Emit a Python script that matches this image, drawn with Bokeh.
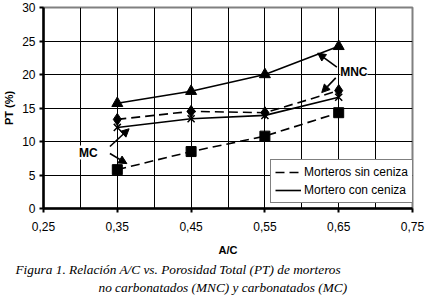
from bokeh.plotting import figure
from bokeh.models import (FixedTicker, Legend, LegendItem, Arrow, NormalHead,
                          Label, CustomJSTickFormatter, Range1d, Title)
from bokeh.embed import file_html
from bokeh.resources import INLINE

# ---- data ----
ac = [0.35, 0.45, 0.55, 0.65]
mnc_con_ceniza = [15.7, 17.5, 20.0, 24.2]   # triangles, solid
mnc_sin_ceniza = [13.3, 14.5, 14.3, 17.6]   # diamonds, dashed
mc_con_ceniza = [12.1, 13.4, 13.9, 16.6]    # x markers, solid
mc_sin_ceniza = [5.8, 8.5, 10.8, 14.3]      # squares, dashed
x_ticks = [0.25, 0.35, 0.45, 0.55, 0.65, 0.75]
x_grid = [0.25, 0.30, 0.35, 0.40, 0.45, 0.50, 0.55, 0.60, 0.65, 0.70, 0.75]
y_ticks = [0, 5, 10, 15, 20, 25, 30]
legend_labels = ["Morteros sin ceniza", "Mortero con ceniza"]
caption_1 = "Figura 1. Relación A/C vs. Porosidad Total (PT) de morteros"
caption_2 = "no carbonatados (MNC) y carbonatados (MC)"

# annotation arrows (x_start, y_start, x_end, y_end)
mnc_arrows = [(0.6475, 21.1, 0.6215, 23.2), (0.646, 19.5, 0.627, 17.3)]
mc_arrows = [(0.340, 9.25, 0.366, 11.9), (0.340, 8.2, 0.363, 6.7)]

FONT = "Liberation Sans"
CAP_FONT = "Liberation Serif"

p = figure(width=430, height=296, output_backend="svg", toolbar_location=None,
           x_range=Range1d(0.25, 0.75), y_range=Range1d(0, 30),
           min_border_left=41, min_border_right=18, min_border_top=7,
           min_border_bottom=88)
p.background_fill_color = "white"
p.border_fill_color = "white"
p.outline_line_color = "#808080"
p.outline_line_width = 2

# grids
p.xgrid.ticker = FixedTicker(ticks=x_grid)
p.ygrid.ticker = FixedTicker(ticks=y_ticks)
for g in (p.xgrid, p.ygrid):
    g.grid_line_color = "black"
    g.grid_line_width = 1
    g.grid_line_alpha = 1

# axes
p.xaxis.ticker = FixedTicker(ticks=x_ticks)
p.yaxis.ticker = FixedTicker(ticks=y_ticks)
p.xaxis.formatter = CustomJSTickFormatter(code="return tick.toFixed(2).replace('.', ',');")
for ax in (p.xaxis, p.yaxis):
    ax.axis_line_color = "black"
    ax.axis_line_width = 2.5
    ax.major_tick_line_color = "black"
    ax.major_tick_line_width = 2
    ax.major_tick_out = 4
    ax.major_tick_in = 0
    ax.minor_tick_line_color = None
    ax.major_label_text_font = FONT
    ax.major_label_text_font_size = "12px"
    ax.major_label_text_color = "black"
    ax.axis_label_text_font = FONT
    ax.axis_label_text_font_style = "bold"
    ax.axis_label_text_font_size = "11px"
    ax.axis_label_text_color = "black"
p.xaxis.major_label_standoff = 9
p.yaxis.major_label_standoff = 4
p.xaxis.axis_label = "A/C"
p.yaxis.axis_label = "PT (%)"
p.xaxis.axis_label_standoff = 10
p.yaxis.axis_label_standoff = 4

# series
dash = "9 5"
l_mnc_con = p.line(ac, mnc_con_ceniza, line_color="black", line_width=1.6)
p.scatter(ac, mnc_con_ceniza, marker="triangle", size=11, fill_color="black", line_color="black")
l_mnc_sin = p.line(ac, mnc_sin_ceniza, line_color="black", line_width=1.6, line_dash=dash)
p.scatter(ac, mnc_sin_ceniza, marker="diamond", size=12, fill_color="black", line_color="black")
l_mc_con = p.line(ac, mc_con_ceniza, line_color="black", line_width=1.6)
p.scatter(ac, mc_con_ceniza, marker="x", size=10, line_color="black", line_width=1.5)
l_mc_sin = p.line(ac, mc_sin_ceniza, line_color="black", line_width=1.6, line_dash=dash)
p.scatter(ac, mc_sin_ceniza, marker="square", size=10, fill_color="black", line_color="black")

# arrows & labels
for (xs, ys, xe, ye) in mnc_arrows + mc_arrows:
    p.add_layout(Arrow(end=NormalHead(size=8, fill_color="black", line_color="black"),
                       x_start=xs, y_start=ys, x_end=xe, y_end=ye,
                       line_color="black", line_width=1.6))

p.add_layout(Label(x=0.652, y=20.4, text="MNC", text_font=FONT, text_font_style="bold",
                   text_font_size="12px", text_baseline="middle", text_color="black",
                   background_fill_color="white"))
p.add_layout(Label(x=0.298, y=8.35, text="MC", text_font=FONT, text_font_style="bold",
                   text_font_size="12px", text_baseline="middle", text_color="black",
                   background_fill_color="white"))

# legend
legend = Legend(items=[LegendItem(label=legend_labels[0], renderers=[l_mnc_sin]),
                       LegendItem(label=legend_labels[1], renderers=[l_mnc_con])],
                location=(227, 5), orientation="vertical")
legend.label_text_font = FONT
legend.label_text_font_size = "12px"
legend.label_text_color = "black"
legend.glyph_width = 26
legend.glyph_height = 16
legend.label_height = 16
legend.spacing = 2
legend.padding = 4
legend.margin = 0
legend.label_standoff = 3
legend.border_line_color = "black"
legend.border_line_width = 1.2
legend.background_fill_color = "white"
legend.background_fill_alpha = 1
p.add_layout(legend, "center")

# caption
t1 = Title(text=caption_1, align="left", offset=-28, text_font=CAP_FONT,
           text_font_style="italic", text_font_size="13.3px", text_color="black",
           standoff=2)
t2 = Title(text=caption_2, align="left", offset=55, text_font=CAP_FONT,
           text_font_style="italic", text_font_size="13.3px", text_color="black",
           standoff=0)
p.add_layout(t1, "below")
p.add_layout(t2, "below")

open("out.html", "w").write(file_html(p, INLINE))
